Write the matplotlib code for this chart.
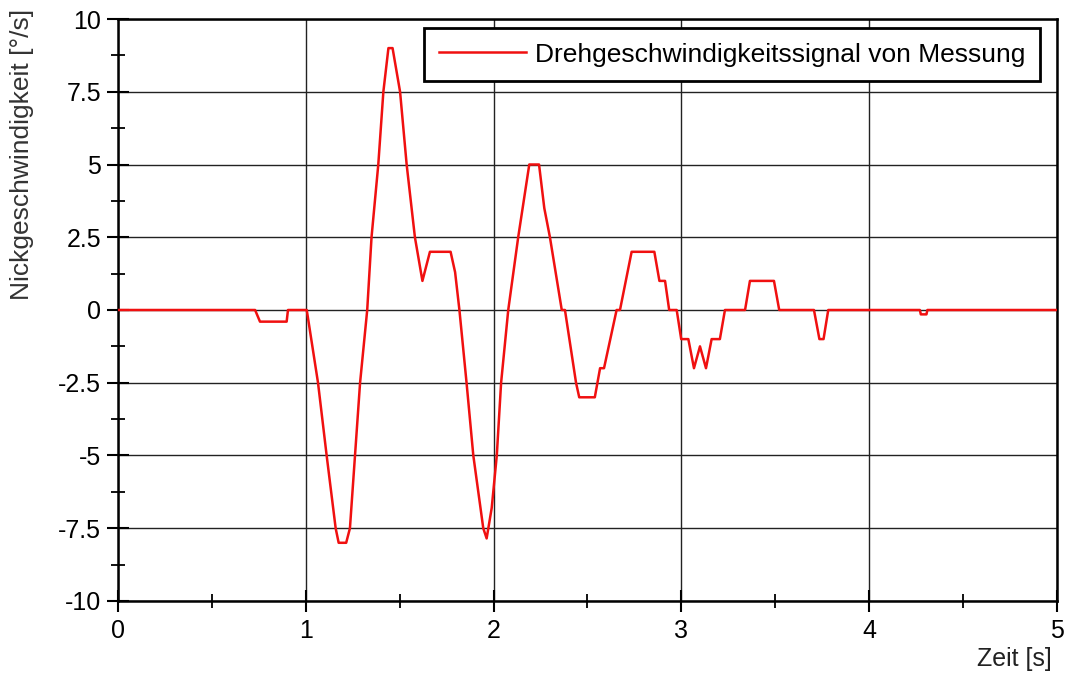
import numpy as np
import matplotlib.pyplot as plt
from matplotlib.ticker import MultipleLocator

plt.rcParams['font.family'] = ['Liberation Sans', 'DejaVu Sans']

zeit = [0.0, 0.73, 0.756, 0.898, 0.905, 1.005,
        1.065, 1.111, 1.159, 1.175, 1.215, 1.235, 1.262, 1.289, 1.327,
        1.350, 1.386, 1.413, 1.440, 1.462, 1.502, 1.537, 1.581, 1.621,
        1.661, 1.771, 1.795, 1.818, 1.856, 1.892, 1.945, 1.963, 1.990,
        2.017, 2.040, 2.078, 2.131, 2.190, 2.242, 2.270, 2.300, 2.363,
        2.380, 2.439, 2.456, 2.539, 2.567, 2.588, 2.655, 2.673, 2.735,
        2.856, 2.883, 2.913, 2.935, 2.975, 2.999, 3.037, 3.067, 3.099,
        3.131, 3.161, 3.205, 3.232, 3.339, 3.365, 3.493, 3.521, 3.706,
        3.735, 3.757, 3.782, 4.270, 4.275, 4.305, 4.310, 5.0]
drehrate = [0, 0, -0.4, -0.4, 0, 0,
            -2.5, -5, -7.5, -8, -8, -7.5, -5, -2.5, 0,
            2.5, 5, 7.5, 9, 9, 7.5, 5, 2.5, 1,
            2, 2, 1.3, 0, -2.5, -5, -7.5, -7.85, -6.8,
            -5, -2.5, 0, 2.5, 5, 5, 3.5, 2.5, 0,
            0, -2.5, -3, -3, -2, -2, 0, 0, 2,
            2, 1, 1, 0, 0, -1, -1, -2, -1.25,
            -2, -1, -1, 0, 0, 1, 1, 0, 0,
            -1, -1, 0, 0, -0.15, -0.15, 0, 0]

y_ticks = [10, 7.5, 5, 2.5, 0, -2.5, -5, -7.5, -10]
y_labels = ['10', '7.5', '5', '2.5', '0', '-2.5', '-5', '-7.5', '-10']

fig = plt.figure(figsize=(10.67, 6.79), dpi=100)
ax = fig.add_axes([0.1106, 0.1149, 0.88, 0.8571])

ax.plot(zeit, drehrate, color='#f01010', linewidth=1.8,
        label='Drehgeschwindigkeitssignal von Messung', zorder=3)

ax.set_xlim(0, 5)
ax.set_ylim(-10, 10)
ax.xaxis.set_major_locator(MultipleLocator(1))
ax.xaxis.set_minor_locator(MultipleLocator(0.5))
ax.yaxis.set_minor_locator(MultipleLocator(1.25))
ax.set_yticks(y_ticks)
ax.set_yticklabels(y_labels)

ax.grid(True, which='major', color='#222222', linewidth=1.0)
ax.tick_params(which='major', direction='inout', length=16, width=1.5,
               labelsize=18, color='black')
ax.tick_params(axis='x', which='major', pad=5)
ax.tick_params(axis='y', which='major', pad=4)
ax.tick_params(which='minor', direction='inout', length=10, width=1.3)
for s in ax.spines.values():
    s.set_linewidth(1.8)
    s.set_color('black')

fig.text(0.986, 0.012, 'Zeit [s]', ha='right', va='bottom', fontsize=18,
         color='#222222')
fig.text(0.021, 0.987, 'Nickgeschwindigkeit [°/s]', rotation=90,
         ha='center', va='top', fontsize=19, color='#333333')

leg = ax.legend(loc='upper right', fontsize=19, handlelength=3.3,
                handletextpad=0.35, fancybox=False, framealpha=1,
                edgecolor='black', borderpad=0.55, borderaxespad=0,
                bbox_to_anchor=(0.982, 0.9845))
leg.get_frame().set_linewidth(2)

fig.savefig('out.png', dpi=100)
